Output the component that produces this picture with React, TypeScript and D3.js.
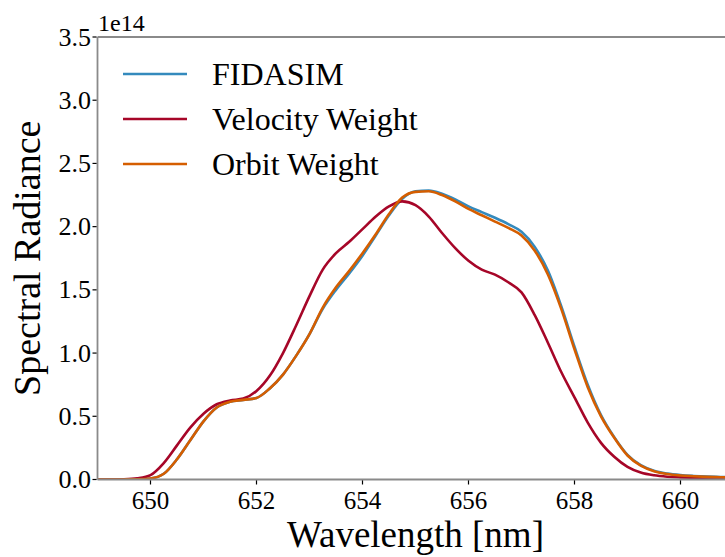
import React from "react";
import * as d3 from "d3";

const wavelengths = [
  649, 649.25, 649.5, 649.75, 650, 650.25, 650.5, 650.75, 651, 651.25, 651.5, 651.75,
  652, 652.25, 652.5, 652.75, 653, 653.25, 653.5, 653.75, 654, 654.25, 654.5, 654.75,
  655, 655.25, 655.5, 655.75, 656, 656.25, 656.5, 656.75, 657, 657.25, 657.5, 657.75,
  658, 658.25, 658.5, 658.75, 659, 659.25, 659.5, 659.75, 660, 660.25, 660.5, 660.75, 661,
];

const fidasim = [
  0, 0, 0.0005, 0.002, 0.008, 0.045, 0.16, 0.31, 0.46, 0.57, 0.615, 0.63,
  0.645, 0.72, 0.83, 0.98, 1.15, 1.35, 1.5, 1.63, 1.77, 1.93, 2.09, 2.22,
  2.28, 2.285, 2.26, 2.215, 2.16, 2.115, 2.07, 2.02, 1.96, 1.84, 1.65, 1.37,
  1.05, 0.75, 0.51, 0.335, 0.195, 0.113, 0.069, 0.047, 0.035, 0.028, 0.023, 0.02, 0.017,
];

const velocityWeight = [
  0, 0, 0.002, 0.01, 0.035, 0.13, 0.27, 0.41, 0.52, 0.595, 0.625, 0.64,
  0.7, 0.82, 1.0, 1.22, 1.45, 1.66, 1.79, 1.88, 1.98, 2.08, 2.16, 2.2,
  2.17, 2.08, 1.95, 1.83, 1.73, 1.66, 1.62, 1.56, 1.48, 1.3, 1.08, 0.85,
  0.65, 0.45, 0.29, 0.18, 0.1, 0.055, 0.033, 0.022, 0.017, 0.014, 0.012, 0.01, 0.008,
];

const orbitWeight = [
  0, 0, 0.0005, 0.002, 0.008, 0.045, 0.16, 0.31, 0.46, 0.57, 0.615, 0.63,
  0.645, 0.72, 0.83, 0.98, 1.15, 1.36, 1.52, 1.65, 1.79, 1.94, 2.1, 2.23,
  2.275, 2.28, 2.25, 2.2, 2.14, 2.09, 2.04, 1.99, 1.93, 1.81, 1.62, 1.35,
  1.03, 0.73, 0.5, 0.33, 0.19, 0.11, 0.066, 0.043, 0.032, 0.026, 0.021, 0.018, 0.015,
];

const seriesNames = ["FIDASIM", "Velocity Weight", "Orbit Weight"];
const seriesColors = ["#348ABD", "#A60628", "#D55E00"];
const xTicks = [650, 652, 654, 656, 658, 660];
const yTicks = [0, 0.5, 1.0, 1.5, 2.0, 2.5, 3.0, 3.5];

const W = 725;
const H = 557;
const FONT = "Liberation Serif, DejaVu Serif, serif";

export default function App() {
  const left = 97.5;
  const top = 37;
  const bottom = 479.5;
  const x = d3.scaleLinear().domain([649, 661]).range([left, left + 12 * 53]);
  const y = d3.scaleLinear().domain([0, 3.5]).range([bottom, top]);
  const line = d3
    .line<[number, number]>()
    .x((d) => x(d[0]))
    .y((d) => y(d[1]))
    .curve(d3.curveMonotoneX);
  const allSeries = [fidasim, velocityWeight, orbitWeight];
  const right = x(661);

  return (
    <div style={{ position: "fixed", left: 0, top: 0 }}>
      <svg width={W} height={H} style={{ display: "block", background: "#fff", fontFamily: FONT }}>
        <defs>
          <clipPath id="plotclip">
            <rect x={left} y={top} width={right - left} height={bottom - top} />
          </clipPath>
        </defs>
        <g clipPath="url(#plotclip)">
          {allSeries.map((s, i) => (
            <path
              key={i}
              d={line(wavelengths.map((w, j) => [w, s[j]] as [number, number])) || ""}
              fill="none"
              stroke={seriesColors[i]}
              strokeWidth={2.6}
              strokeLinejoin="round"
            />
          ))}
        </g>
        {/* spines */}
        <line x1={left} x2={left} y1={top} y2={bottom} stroke="#8a8a8a" strokeWidth={1.8} />
        <line x1={left} x2={right} y1={top} y2={top} stroke="#8a8a8a" strokeWidth={1.8} />
        <line x1={left} x2={right} y1={bottom} y2={bottom} stroke="#8a8a8a" strokeWidth={1.8} />
        <line x1={right} x2={right} y1={top} y2={bottom} stroke="#8a8a8a" strokeWidth={1.8} />
        {/* x ticks */}
        {xTicks.map((t) => (
          <g key={t}>
            <line x1={x(t)} x2={x(t)} y1={bottom + 0.9} y2={bottom + 5} stroke="#000" strokeWidth={1.2} />
            <text x={x(t)} y={509} textAnchor="middle" fontSize={25} fill="#000">
              {t}
            </text>
          </g>
        ))}
        {/* y ticks */}
        {yTicks.map((t) => (
          <g key={t}>
            <line x1={left - 5} x2={left - 0.9} y1={y(t)} y2={y(t)} stroke="#000" strokeWidth={1.2} />
            <text x={91} y={y(t) + 8.5} textAnchor="end" fontSize={26} fill="#000">
              {t.toFixed(1)}
            </text>
          </g>
        ))}
        <text x={98} y={31} fontSize={24} fill="#000">
          1e14
        </text>
        <text x={(left + right) / 2} y={547} textAnchor="middle" fontSize={37} fill="#000">
          Wavelength [nm]
        </text>
        <text
          transform={`translate(40, ${(top + bottom) / 2}) rotate(-90)`}
          textAnchor="middle"
          fontSize={38}
          fill="#000"
        >
          Spectral Radiance
        </text>
        {/* legend */}
        {seriesNames.map((n, i) => (
          <g key={n}>
            <line
              x1={123}
              x2={187}
              y1={74 + i * 45}
              y2={74 + i * 45}
              stroke={seriesColors[i]}
              strokeWidth={2.6}
            />
            <text x={212} y={74 + i * 45 + 11} fontSize={32} fill="#000">
              {n}
            </text>
          </g>
        ))}
      </svg>
    </div>
  );
}
